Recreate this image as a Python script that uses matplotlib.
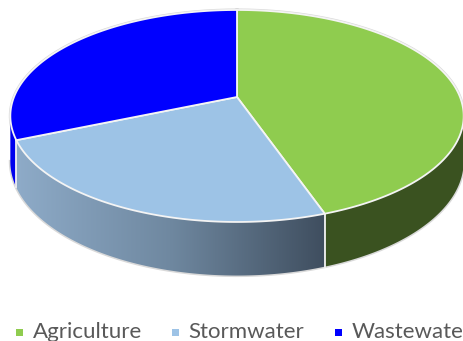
import numpy as np
import matplotlib
matplotlib.use("Agg")
import matplotlib.pyplot as plt
from matplotlib.patches import Polygon, Rectangle
from matplotlib.colors import LinearSegmentedColormap

# data (share of total, %)
categories = ['Agriculture', 'Stormwater', 'Wastewater']
values = [44.7, 23.9, 31.4]
top_colors = ['#8fcc4f', '#9dc3e6', '#0000ff']
side_colors = ['#3a5220', None, '#0000ee']  # None -> gradient

W, H = 464, 341
cx, cy = 237, 97          # pie centre on screen
A, B = 223, 102.6         # semi axes
P = 0.179                 # perspective factor
DEPTH = 44                # thickness of the pie


def project(theta_deg, drop=0.0):
    """theta measured clockwise from the far (top) point"""
    t = np.radians(theta_deg)
    u = np.sin(t)
    v = -np.cos(t)
    w = 1.0 / (1.0 - P * v)
    return cx + A * u * w, cy + B * v * w + drop * w


fig = plt.figure(figsize=(W / 100, H / 100), dpi=100)
ax = fig.add_axes([0, 0, 1, 1])
ax.set_xlim(0, W)
ax.set_ylim(H, 0)
ax.axis('off')

fracs = np.array(values) / sum(values)
bounds = np.concatenate([[0], np.cumsum(fracs) * 360])

# visible part of the rim: between the two silhouette points
th_r = np.degrees(np.arccos(-P))
th_l = 360 - th_r

# outer light-gray halo of the whole shape
tt = np.linspace(0, 360, 400)
xs, ys = project(tt)
ax.plot(xs, ys, color='#d9d9d9', lw=2.2, zorder=1)
sx, sy = project(np.linspace(th_r, th_l, 200), DEPTH)
ax.plot(sx, sy, color='#d9d9d9', lw=2.2, zorder=1)

# side walls
for i in range(len(values)):
    a0 = max(bounds[i], th_r)
    a1 = min(bounds[i + 1], th_l)
    if a1 <= a0:
        continue
    th = np.linspace(a0, a1, 120)
    tx, ty = project(th)
    bx, by = project(th, DEPTH)
    pts = np.column_stack([np.concatenate([tx, bx[::-1]]),
                           np.concatenate([ty, by[::-1]])])
    if side_colors[i] is None:
        poly = Polygon(pts, closed=True, facecolor='none', edgecolor='none')
        ax.add_patch(poly)
        cmap = LinearSegmentedColormap.from_list('side', ['#8eabc8', '#6f88a0', '#3f4e5f'])
        grad = np.linspace(0, 1, 256).reshape(1, -1)
        im = ax.imshow(grad, cmap=cmap, aspect='auto',
                       extent=[pts[:, 0].min(), pts[:, 0].max(), pts[:, 1].max(), pts[:, 1].min()],
                       zorder=2)
        im.set_clip_path(poly)
    else:
        ax.add_patch(Polygon(pts, closed=True, facecolor=side_colors[i],
                             edgecolor='none', zorder=2))

# vertical white seams on the side
for b in bounds[1:-1]:
    if th_r < b < th_l:
        x0, y0 = project(b)
        x1, y1 = project(b, DEPTH)
        ax.plot([x0, x1], [y0, y1], color='#f2f2f2', lw=1.3, zorder=3)

# top slices
for i in range(len(values)):
    th = np.linspace(bounds[i], bounds[i + 1], 200)
    tx, ty = project(th)
    pts = np.column_stack([np.concatenate([[cx], tx]), np.concatenate([[cy], ty])])
    ax.add_patch(Polygon(pts, closed=True, facecolor=top_colors[i],
                         edgecolor='#f4f4f4', lw=1.3, zorder=4))

# legend
leg_x = [19.5, 175.5, 339]
for x, lab, col in zip(leg_x, categories, top_colors):
    ax.add_patch(Rectangle((x - 3.5, 328.5), 7, 7, facecolor=col,
                           edgecolor='none', zorder=5))
    ax.text(x + 13, 338, lab, fontsize=16, color='#595959', family='Lato',
            va='baseline', ha='left', zorder=5)

fig.savefig('out.png', dpi=100)
